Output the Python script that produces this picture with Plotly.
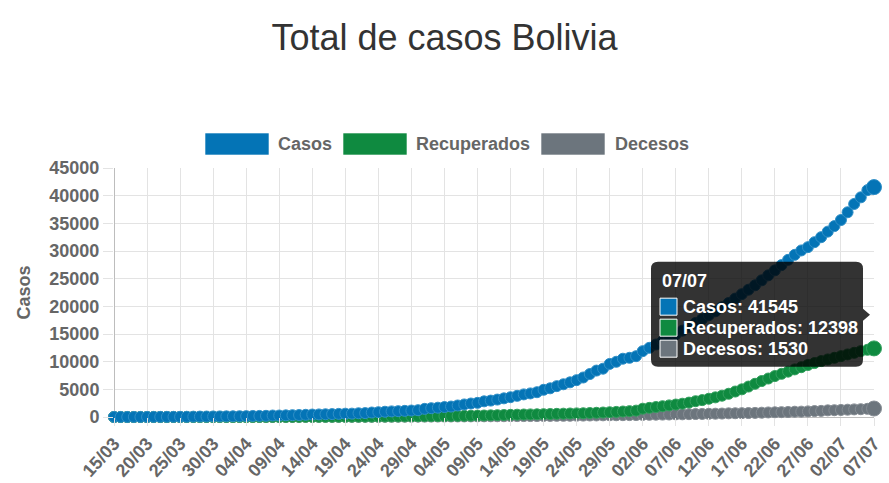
import plotly.graph_objects as go

# ---------------- data ----------------
tick_labels = ["15/03", "20/03", "25/03", "30/03", "04/04", "09/04", "14/04", "19/04",
               "24/04", "29/04", "04/05", "09/05", "14/05", "19/05", "24/05", "29/05",
               "02/06", "07/06", "12/06", "17/06", "22/06", "27/06", "02/07", "07/07"]

casos = [10, 11, 11, 12, 15, 19, 19, 24, 27, 29, 32, 39, 61, 74, 81, 97, 107,
         115, 132, 139, 157, 183, 194, 210, 264, 268, 300, 330, 354, 397, 441, 465,
         493, 520, 564, 598, 609, 672, 703, 807, 866, 950, 1014, 1053, 1110, 1167, 1229,
         1470, 1594, 1681, 1802, 1886, 2081, 2266, 2437, 2556, 2831, 2964, 3148, 3372,
         3577, 3826, 4088, 4263, 4481, 4919, 5187, 5579, 5915, 6263, 6660, 7136, 7768,
         8387, 8731, 9592,
         9982, 10531, 10700, 10991,
         11900, 12500, 13100, 13700, 14300, 14950, 15600, 16300, 17000, 17700,
         18400, 19100, 19850, 20600, 21400, 22200, 23000, 23800, 24700, 25600,
         26500, 27450, 28400, 29300, 30100, 30700, 31600, 32500, 33500, 34500,
         35600, 37000, 38500, 39700, 41000, 41545]

recuperados = [0] * 17 + [
    1, 1, 1, 1, 1, 1, 4, 4, 4, 4, 20, 21, 26, 31, 31, 33, 37, 43, 45, 53,
    55, 60, 67, 71, 80, 89, 95, 106, 118, 133,
    140, 150, 160, 170, 190, 198, 215, 231, 250, 270, 300, 330, 360, 390, 420,
    450, 470, 490, 510, 540, 570, 600, 630, 650, 680, 720, 760, 810, 860,
    920, 990, 1060, 1150,
    1500, 1650, 1800, 1950, 2100, 2250, 2400, 2600, 2850, 3050,
    3300, 3550, 3850, 4200, 4600, 5000, 5500, 6000, 6500, 6950,
    7400, 7800, 8200, 8600, 9000, 9400, 9750, 10100, 10400, 10700,
    11000, 11300, 11600, 11900, 12150, 12398]

decesos = [0, 0, 0, 0, 0, 0, 0, 0, 0, 0, 0, 1, 3, 4, 6, 6, 7,
           9, 9, 10, 11, 12, 14, 15, 15, 17, 20, 22, 24, 27, 28, 29, 31, 32, 33, 34,
           37, 39, 43, 43, 44, 46, 50, 53, 55, 59, 62,
           71, 76, 82, 87, 91, 98, 106, 111, 117, 122, 128, 135, 142, 152, 159, 165,
           169, 174, 189, 194, 205, 215, 224, 238, 249, 270, 282, 302, 310,
           318, 330, 343, 355,
           376, 400, 415, 433, 452, 476, 487, 514, 537, 553, 577, 597, 621, 661, 679,
           697, 715, 741, 778, 820, 847, 876, 906, 955, 970, 1014, 1071, 1106, 1201,
           1226, 1271, 1320, 1378, 1410, 1476, 1530]

series_names = ["Casos", "Recuperados", "Decesos"]
series_values = [casos, recuperados, decesos]
series_colors = ["#0474b6", "#0f8a40", "#6c757d"]
series_edges = ["#2f8fc7", "#33a05e", "#858c93"]

assert len(casos) == len(recuperados) == len(decesos) == 116

n = len(casos)
xs = list(range(n))
tick_vals = list(range(0, n, 5))

# ---------------- layout geometry (pixels) ----------------
W, H = 889, 483
L, R, T, B = 114, 15, 168, 66
PW, PH = W - L - R, H - T - B


def pxx(px):
    return (px - L) / PW


def pxy(py):
    return (T + PH - py) / PH


GREY = "#666666"
FONT = "Liberation Sans, Arial, Helvetica, sans-serif"

fig = go.Figure()

# Chart.js draws the first dataset on top -> add in reverse order
for name, vals, col, edge in reversed(list(zip(series_names, series_values, series_colors, series_edges))):
    sizes = [11] * (n - 1) + [15]
    fig.add_trace(go.Scatter(
        x=xs, y=vals, name=name, mode="lines+markers",
        line=dict(color=col, width=3),
        marker=dict(color=col, size=sizes, opacity=1, line=dict(color=edge, width=1)),
        cliponaxis=False, showlegend=False, hoverinfo="skip",
    ))

shapes = []
annotations = []

# ---- custom legend (Chart.js style boxes) ----
legend_boxes = [(205, 269, 276), (343, 407, 414), (541, 605, 613)]
for (bx0, bx1, tx), name, col in zip(legend_boxes, series_names, series_colors):
    shapes.append(dict(type="rect", xref="paper", yref="paper",
                       x0=pxx(bx0), x1=pxx(bx1), y0=pxy(155), y1=pxy(133),
                       fillcolor=col, line=dict(color="rgba(255,255,255,0.6)", width=1)))
    annotations.append(dict(xref="paper", yref="paper", x=pxx(tx), y=pxy(144),
                            text=name, showarrow=False, xanchor="left", yanchor="middle",
                            font=dict(family=FONT, size=18, color=GREY, weight="bold")))

# ---- tooltip anchored at the last data point ----
last = n - 1
anchor_y = sum(v[last] for v in series_values) / len(series_values)
bl, br, bt, bb, rr = -223, -11, 53, -52, 7
path = (f"M {bl + rr},{bt} L {br - rr},{bt} Q {br},{bt} {br},{bt - rr} "
        f"L {br},6 L {br + 7},0 L {br},-6 "
        f"L {br},{bb + rr} Q {br},{bb} {br - rr},{bb} L {bl + rr},{bb} "
        f"Q {bl},{bb} {bl},{bb + rr} L {bl},{bt - rr} Q {bl},{bt} {bl + rr},{bt} Z")
shapes.append(dict(type="path", xref="x", yref="y", xsizemode="pixel", ysizemode="pixel",
                   xanchor=last, yanchor=anchor_y, path=path,
                   fillcolor="rgba(0,0,0,0.8)", line=dict(width=0)))
annotations.append(dict(xref="x", yref="y", x=last, y=anchor_y, xshift=-214, yshift=34,
                        text=tick_labels[-1], showarrow=False, xanchor="left", yanchor="middle",
                        font=dict(family=FONT, size=18, color="white", weight="bold")))
row_shift = [8, -13, -34]
for name, vals, col, ys in zip(series_names, series_values, series_colors, row_shift):
    shapes.append(dict(type="rect", xref="x", yref="y", xsizemode="pixel", ysizemode="pixel",
                       xanchor=last, yanchor=anchor_y, x0=-214, x1=-197, y0=ys - 8.5, y1=ys + 8.5,
                       fillcolor=col, line=dict(color="white", width=1)))
    annotations.append(dict(xref="x", yref="y", x=last, y=anchor_y, xshift=-193, yshift=ys,
                            text=f"{name}: {vals[last]}", showarrow=False,
                            xanchor="left", yanchor="middle",
                            font=dict(family=FONT, size=18, color="white", weight="bold")))

fig.update_layout(
    width=W, height=H,
    margin=dict(l=L, r=R, t=T, b=B, pad=0, autoexpand=False),
    paper_bgcolor="white", plot_bgcolor="white",
    title=dict(text="Total de casos Bolivia", x=0.5, xanchor="center",
               y=1 - 37 / H, yanchor="middle", yref="container",
               font=dict(family=FONT, size=36, color="#333333")),
    shapes=shapes, annotations=annotations,
    xaxis=dict(range=[0, n - 1], tickmode="array", tickvals=tick_vals, ticktext=tick_labels,
               tickangle=-48, showgrid=True, gridcolor="#e3e3e3", gridwidth=1,
               zeroline=True, zerolinecolor="#bdbdbd", zerolinewidth=1,
               ticks="outside", ticklen=8, tickcolor="#e3e3e3", automargin=False,
               tickfont=dict(family=FONT, size=18, color=GREY, weight="bold"),
               fixedrange=True),
    yaxis=dict(range=[0, 45000], tickmode="linear", tick0=0, dtick=5000, tickformat="d",
               showgrid=True, gridcolor="#e3e3e3", gridwidth=1,
               zeroline=True, zerolinecolor="#bdbdbd", zerolinewidth=1,
               ticks="outside", ticklen=10, tickcolor="#e3e3e3", automargin=False,
               tickfont=dict(family=FONT, size=18, color=GREY, weight="bold"),
               title=dict(text="Casos", standoff=14,
                          font=dict(family=FONT, size=18, color=GREY, weight="bold")),
               fixedrange=True),
)

fig.write_html("out.html")
